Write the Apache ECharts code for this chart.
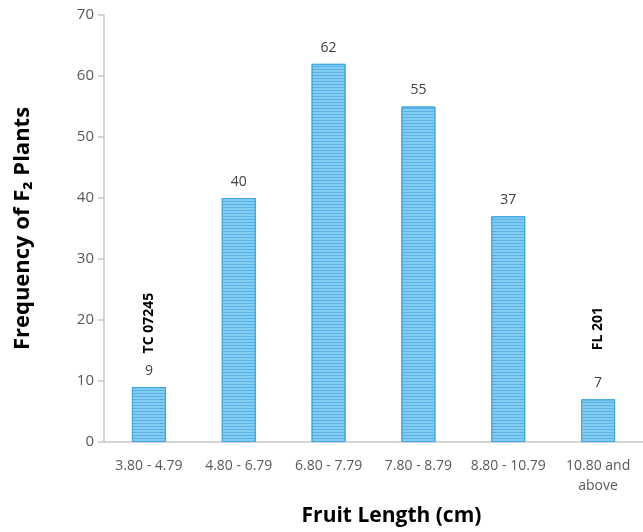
<!DOCTYPE html>
<html><head><meta charset="utf-8">
<script src="https://cdn.jsdelivr.net/npm/echarts@6/dist/echarts.min.js"></script>
<style>html,body{margin:0;padding:0;background:#fff}#c{width:643px;height:532px}</style>
</head><body><div id="c"></div>
<script>
const categories = ['3.80 - 4.79', '4.80 - 6.79', '6.80 - 7.79', '7.80 - 8.79', '8.80 - 10.79', '10.80 and\nabove'];
const frequency = [9, 40, 62, 55, 37, 7];
const yTicks = [0, 10, 20, 30, 40, 50, 60, 70];
const parentLabels = [
  { name: 'TC 07245', category: '3.80 - 4.79', value: 19.5 },
  { name: 'FL 201', category: '10.80 and\nabove', value: 18.6 }
];

const chart = echarts.init(document.getElementById('c'));
chart.setOption({
  animation: false,
  grid: { left: 104, top: 15, width: 545, height: 428, containLabel: false },
  xAxis: {
    type: 'category', data: categories,
    axisLine: { lineStyle: { color: '#c8c8c8', width: 1.5 } },
    axisTick: { show: false },
    axisLabel: { color: '#595959', fontSize: 14, fontFamily: 'Open Sans', margin: 14, lineHeight: 20, interval: 0 },
    name: 'Fruit Length (cm)', nameLocation: 'middle', nameGap: 64,
    nameTextStyle: { color: '#000', fontSize: 21, fontWeight: 'bold', fontFamily: 'Open Sans', padding: [0, 0, 0, 36] }
  },
  yAxis: {
    type: 'value', min: yTicks[0], max: yTicks[yTicks.length - 1], interval: 10,
    axisLine: { show: true, lineStyle: { color: '#c8c8c8', width: 1.5 } },
    axisTick: { show: true, length: 6, lineStyle: { color: '#c8c8c8', width: 1.5 } },
    splitLine: { show: false },
    axisLabel: { color: '#595959', fontSize: 15, fontFamily: 'Open Sans', margin: 10 },
    name: 'Frequency of F\u2082 Plants', nameLocation: 'middle', nameGap: 70,
    nameTextStyle: { color: '#000', fontSize: 22, fontWeight: 'bold', fontFamily: 'Open Sans' }
  },
  series: [{
    type: 'bar', data: frequency, barWidth: 34,
    itemStyle: {
      color: '#84cdf1', borderColor: '#3da7e6', borderWidth: 1,
      decal: { symbol: 'rect', symbolSize: 1, dashArrayX: [1, 0], dashArrayY: [1, 2], rotation: 0, color: 'rgba(40,150,220,0.5)' }
    },
    label: { show: true, position: 'top', distance: 9, color: '#404040', fontSize: 14, fontFamily: 'Open Sans' },
    markPoint: {
      symbol: 'rect', symbolSize: 1,
      itemStyle: { color: 'rgba(0,0,0,0)' },
      label: { show: true, position: 'inside', rotate: 90, color: '#000', fontSize: 14, fontWeight: 'bold', fontFamily: 'Open Sans', formatter: p => p.name },
      data: parentLabels.map(d => ({ name: d.name, coord: [d.category, d.value] }))
    }
  }]
});
</script></body></html>
